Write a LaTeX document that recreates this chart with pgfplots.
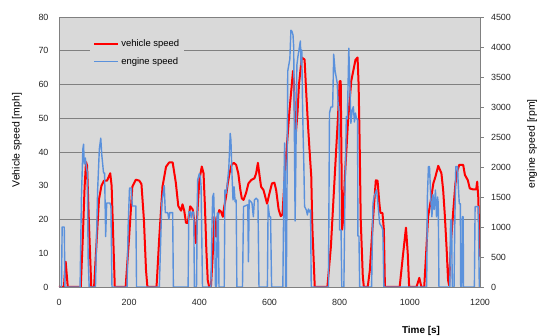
\documentclass[border=0pt]{standalone}
\usepackage{fontspec}
\setmainfont{Liberation Sans}
\usepackage{pgfplots}
\pgfplotsset{compat=1.18}
\definecolor{bgcol}{RGB}{217,217,217}
\definecolor{gridcol}{RGB}{128,128,128}
\definecolor{vred}{RGB}{255,0,0}
\definecolor{eblue}{RGB}{90,145,220}
\begin{document}
\begin{tikzpicture}
\path[use as bounding box] (-59bp,-49bp) rectangle (480bp,287bp);
\begin{axis}[
  scale only axis, width=421bp, height=270bp,
  xmin=0, xmax=1200, ymin=0, ymax=80,
  xtick={0,200,...,1200}, ytick={0,10,...,80},
  xtick pos=bottom, ytick pos=left,
  major tick length=0pt,
  axis background/.style={fill=bgcol},
  axis line style={gridcol, line width=0.8bp},
  extra y ticks={20,40,50,60,70,80},
  extra y tick labels={,,,,,},
  extra y tick style={grid=major, major tick length=0pt},
  grid style={gridcol, line width=0.8bp},
  /pgf/number format/assume math mode=true,
  /pgf/number format/1000 sep={},
  tick label style={font=\fontsize{9}{10}\selectfont, black!85},
  yticklabel style={xshift=-7bp},
  xticklabel style={yshift=-9bp},
  ylabel={Vehicle speed [mph]},
  ylabel style={at={(axis description cs:-0.0998,0.544)}, anchor=center, font=\fontsize{10.5}{12}\selectfont},
  xlabel={Time [s]},
  xlabel style={at={(axis description cs:0.86,-0.163)}, anchor=center, font=\bfseries\fontsize{10}{12}\selectfont},
]
\addplot[vred, line width=2bp, line join=round] coordinates {
(0,0) (14,0) (19,7.5) (25,0) (62,0) (68,15) (73,29.7) (77,37) (80,36) (85,20) (92,0)
(100,0) (108,15) (114,26) (121,30) (128,31.5) (137,31.5) (146,33.7) (150,30) (159,0)
(190,0) (200,15) (209,29.7) (219,31.8) (229,31.5) (235,30.5) (242,20) (248,5) (252,0)
(278,0) (286,15) (295,29.7) (305,35.6) (314,36.9) (324,36.9) (333,30.9) (340,24) (348,22.6)
(352,24.5) (357,22.6) (362,19) (367,19) (374,23.9) (381,23) (385,20) (390,13) (395,23)
(400,31.7) (407,35.7) (412,33.7) (416,23.8) (420,11) (424,2) (428,0) (433,0) (438,9)
(443,20.8) (448,14.9) (452,20.8) (457,22.8) (462,22.3) (467,20.8) (471,23.8) (476,26.7)
(481,30.7) (486,33.7) (492,36.2) (498,36.8) (505,36.2) (511,33.7) (517,28.7) (521,26.3)
(526,25.8) (533,27.8) (540,30.7) (548,31.7) (557,32.2) (562,33.7) (567,36.8) (572,32.7)
(576,29.7) (583,28.7) (588,26.7) (593,24.7) (600,27.8) (607,30.7) (614,30.9) (619,28.7)
(626,23) (632,21) (637,21.5) (643,32) (650,42.5) (657,52.3) (667,64) (670,60) (674,44)
(680,52) (684,60) (692,68) (700,67.4) (705,57) (710,47.5) (714,40.7) (719,32.8) (722,18)
(729,0) (765,0) (775,12) (786,33) (795,50) (800,61) (803,61) (807,17) (810,20) (815,33)
(824,49.4) (833,61) (845,67.3) (851,68) (854,60) (857,42.5) (860,20) (866,3) (869,0)
(880,0) (886,5) (895,20) (903,31.6) (908,31.5) (913,25) (916,22) (922,21.9) (926,17) (929,0)
(971,0) (980,9) (989,17.6) (994,10) (998,0) (1019,0) (1027,2.7) (1033,0) (1041,0)
(1047,11) (1052,20.8) (1060,25.8) (1067,30.7) (1073,32.7) (1081,35.9) (1086,34.7)
(1090,33.7) (1095,28.7) (1100,20.8) (1105,11) (1109,2) (1112,0.5) (1117,13) (1124,22.8)
(1130,30.7) (1136,34.7) (1141,36.2) (1152,36.2) (1157,33.2) (1165,31.7) (1171,29.2)
(1181,28.9) (1189,28.9) (1192,31.2) (1195,26.7) (1200,9)
};
\end{axis}
\begin{axis}[
  scale only axis, width=421bp, height=270bp,
  xmin=0, xmax=1200, ymin=0, ymax=4500,
  axis x line=none, axis y line*=right,
  ytick={0,500,...,4500},
  tick align=outside, major tick length=3.5bp,
  tick style={gridcol, line width=0.8bp},
  axis line style={gridcol, line width=0.8bp, -},
  /pgf/number format/assume math mode=true,
  /pgf/number format/1000 sep={},
  tick label style={font=\fontsize{9}{10}\selectfont, black!85},
  yticklabel style={xshift=4bp},
  ylabel={engine speed [rpm]},
  ylabel style={at={(axis description cs:1.124,0.53)}, anchor=center, font=\fontsize{10.5}{12}\selectfont},
  legend style={at={(rel axis cs:0.074,0.94)}, anchor=north west, fill=bgcol, draw=none,
    font=\fontsize{9.5}{11}\selectfont, row sep=5.5bp, inner xsep=3bp, inner ysep=4bp},
  legend cell align=left,
  legend image code/.code={\draw[#1] (0bp,0bp) -- (24bp,0bp);},
]
\addlegendimage{vred, line width=2bp}
\addlegendentry{vehicle speed}
\addplot[eblue, line width=1.4bp, line join=round] coordinates {
(0,0) (7,0) (9,1000) (15,1000) (17,0) (60,0) (64,1500) (68,2300) (70,2380) (72,2050)
(75,2150) (78,2000) (81,1900) (83,500) (86,0) (104,0) (110,1600) (115,2300) (119,2480)
(122,2200) (127,1900) (130,1900) (133,840) (136,1400) (145,1400) (148,1350) (151,0)
(194,0) (197,1000) (201,1650) (206,1650) (209,1350) (219,1350) (221,0)
(286,0) (293,1400) (300,1690) (303,1240) (310,1240) (313,1130) (316,1240) (324,1240) (326,0)
(368,0) (370,1250) (374,1260) (377,1150) (380,1250) (384,1250) (386,0) (392,0) (395,1780)
(400,1890) (403,1830) (405,1670) (409,0) (433,0) (436,1000) (438,1500) (441,1560) (444,800)
(446,0) (449,0) (451,1230) (454,1230) (456,0) (471,0) (473,1617) (476,1560) (479,1670)
(484,1980) (488,2560) (490,2450) (493,1890) (496,1450) (499,1670) (502,1420) (505,1450) (507,0)
(523,0) (526,1340) (538,1370) (540,420) (542,1450) (550,1400) (554,1170) (557,1450)
(562,1480) (567,1450) (570,0) (594,0) (596,1370) (600,1170) (603,1170) (606,0)
(638,0) (641,1700) (643,2400) (645,1700) (646,0) (648,0) (650,1700) (652,3600) (655,3700)
(658,3800) (661,4280) (664,4260) (667,4200) (669,4000) (671,2500) (673,1100) (675,2000)
(678,3700) (681,3840) (684,3950) (688,4100) (690,3700) (692,3950) (694,3100) (696,2500)
(698,2000) (700,1340) (705,1283) (708,1200) (711,1300) (714,1250) (717,1283) (719,0)
(768,0) (771,2900) (775,3000) (780,3000) (783,3880) (787,3600) (790,3500) (793,3400)
(796,3000) (798,2950) (800,950) (804,950) (806,0) (812,0) (815,1500) (819,2840) (822,2800)
(826,3980) (829,3400) (832,2730) (836,2950) (839,3006) (842,2750) (845,2900) (848,2800)
(851,2800) (852,850) (855,850) (857,0) (891,0) (895,1400) (898,1500) (905,1620) (908,1450)
(914,1060) (920,1000) (923,950) (926,0) (1048,0) (1050,1500) (1053,2006) (1056,2006)
(1060,1450) (1063,1170) (1066,1540) (1069,1290) (1073,1617) (1076,1170) (1079,1500)
(1081,1400) (1083,0) (1114,0) (1116,1116) (1119,1116) (1121,0) (1126,0) (1128,1000)
(1131,2006) (1136,2006) (1138,1700) (1141,1389) (1144,1389) (1145,0) (1148,0) (1150,1172)
(1152,1172) (1153,0) (1184,0) (1186,1339) (1195,1339) (1198,0) (1200,0)
};
\addlegendentry{engine speed}
\end{axis}
\end{tikzpicture}
\end{document}
